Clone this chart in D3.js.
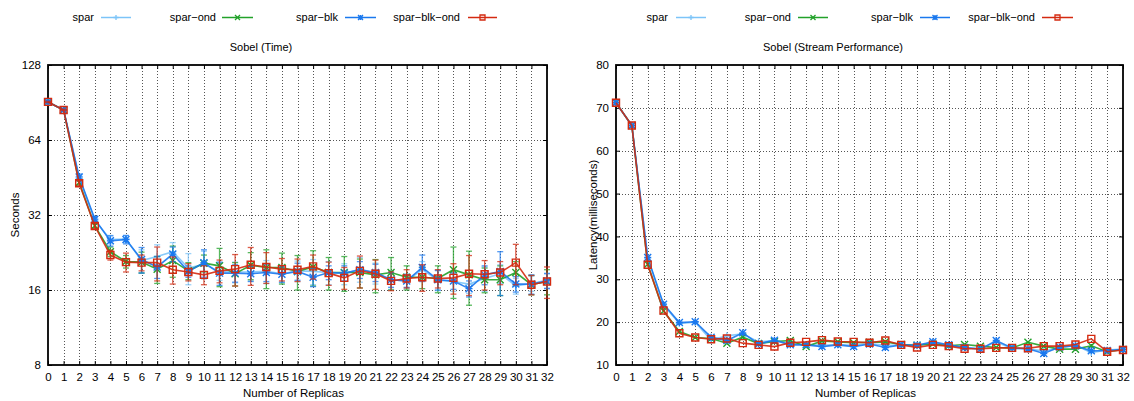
<!DOCTYPE html>
<html>
<head>
<meta charset="utf-8">
<script src="https://cdn.jsdelivr.net/npm/d3@7"></script>
<style>
  body { margin: 0; background: #fff; }
  svg { display: block; font-family: "Liberation Sans", Arial, Helvetica, sans-serif; }
</style>
</head>
<body>
<svg id="chart" width="1134" height="401"></svg>
<script>
// ---------- Data ----------
const replicas = d3.range(0, 33);
const seriesNames = ["spar", "spar\u2212ond", "spar\u2212blk", "spar\u2212blk\u2212ond"];

// Sobel (Time) – seconds
const timeSpar      = [91, 84.5, 45.0, 30.5, 25.5, 25.6, 21.0, 21.8, 22.8, 19.6, 20.3, 19.0, 18.9, 18.9, 19.0, 18.6, 19.1, 19.0, 18.8, 18.6, 19.4, 18.7, 17.6, 17.4, 19.3, 17.5, 17.3, 16.9, 17.8, 18.6, 16.6, 17.0, 17.5];
const timeSparOnd   = [91, 84.5, 43.2, 29.0, 22.8, 20.8, 20.7, 19.4, 21.0, 19.1, 20.5, 20.0, 18.6, 20.1, 19.7, 19.7, 19.0, 19.8, 18.8, 18.8, 18.8, 18.4, 18.8, 18.0, 18.0, 17.8, 19.3, 18.4, 17.6, 17.6, 18.8, 16.8, 17.3];
const timeSparBlk   = [91, 84.5, 45.5, 30.8, 25.2, 25.5, 21.2, 19.8, 22.3, 19.0, 20.6, 18.7, 18.7, 18.6, 18.8, 18.5, 19.0, 18.0, 18.8, 18.7, 19.3, 18.8, 17.6, 17.4, 19.7, 17.6, 17.4, 16.2, 18.4, 19.0, 16.9, 16.9, 17.4];
const timeSparBlkOnd= [91, 84.5, 42.9, 28.9, 22.1, 20.7, 20.6, 20.6, 19.3, 18.9, 18.4, 19.1, 19.4, 20.2, 19.8, 19.4, 19.3, 19.9, 18.7, 17.9, 19.1, 18.6, 17.4, 17.8, 18.0, 17.8, 17.9, 18.6, 18.5, 18.8, 20.6, 16.8, 17.3];

// error bars (± seconds)
const errSpar       = [0.8, 0.8, 1.2, 0.8, 1.0, 0.8, 2.2, 2.5, 2.0, 2.8, 2.6, 1.5, 1.8, 1.5, 2.0, 1.5, 1.8, 2.2, 2.0, 1.8, 2.2, 1.8, 1.5, 1.2, 1.5, 1.6, 1.5, 1.4, 2.0, 1.6, 1.2, 1.2, 1.2];
const errSparOnd    = [0.5, 0.5, 1.0, 0.6, 1.0, 1.2, 2.0, 2.4, 3.0, 1.5, 1.6, 3.5, 2.0, 2.5, 3.5, 2.8, 3.0, 3.2, 2.8, 3.0, 2.5, 2.8, 2.8, 2.0, 1.8, 2.2, 4.5, 4.5, 2.0, 2.4, 2.0, 1.5, 2.0];
const errSparBlk    = [0.5, 0.5, 1.2, 0.8, 1.2, 1.0, 2.5, 2.0, 1.5, 1.0, 2.6, 2.0, 1.5, 1.3, 1.5, 1.3, 1.5, 1.5, 1.2, 1.3, 1.5, 1.5, 1.2, 1.0, 2.4, 1.6, 1.3, 1.2, 1.6, 3.8, 1.2, 1.5, 1.2];
const errSparBlkOnd = [0.5, 0.5, 1.0, 0.7, 1.0, 1.8, 1.5, 3.2, 2.4, 1.5, 1.6, 2.0, 2.8, 3.5, 2.8, 2.0, 2.0, 2.2, 2.0, 1.8, 2.8, 2.5, 1.5, 1.5, 2.2, 1.5, 2.5, 3.4, 2.5, 2.0, 3.8, 1.5, 2.5];

// Sobel (Stream Performance) – latency ms
const latSpar       = [71.2, 65.9, 35.0, 24.0, 19.7, 20.0, 15.8, 16.8, 17.3, 15.4, 15.7, 15.0, 14.8, 14.6, 14.8, 14.6, 15.0, 14.6, 14.6, 14.5, 15.3, 14.5, 14.0, 13.8, 15.4, 13.8, 13.7, 13.3, 13.9, 14.6, 12.9, 13.5, 13.7];
const latSparOnd    = [71.2, 65.9, 33.5, 22.6, 17.8, 16.4, 16.2, 15.1, 16.5, 15.0, 15.5, 15.7, 14.3, 15.6, 15.4, 15.2, 15.3, 15.4, 14.8, 14.6, 14.9, 14.5, 14.8, 14.4, 14.1, 14.0, 15.3, 14.4, 13.7, 13.7, 14.5, 13.1, 13.6];
const latSparBlk    = [71.2, 65.9, 35.1, 24.2, 19.9, 20.1, 16.5, 15.7, 17.5, 14.9, 15.8, 14.7, 14.7, 14.3, 14.7, 14.3, 14.9, 14.1, 14.7, 14.6, 15.4, 14.7, 14.1, 13.7, 15.7, 14.0, 13.8, 12.7, 14.2, 14.5, 13.3, 13.4, 13.6];
const latSparBlkOnd = [71.2, 65.9, 33.4, 22.7, 17.4, 16.4, 16.0, 16.2, 15.1, 14.7, 14.3, 15.2, 15.4, 15.8, 15.5, 15.4, 15.2, 15.7, 14.7, 14.1, 14.7, 14.4, 13.8, 13.8, 14.0, 14.0, 13.9, 14.4, 14.4, 14.8, 16.1, 13.1, 13.5];

const timeTicks = [8, 16, 32, 64, 128];
const latTicks = [10, 20, 30, 40, 50, 60, 70, 80];

// ---------- Styles ----------
const colors = ["#7cc4f8", "#22a22a", "#1a78ee", "#d42a10"];
const markers = ["plus", "cross", "star", "square"];

const svg = d3.select("#chart");

function markerPath(type, s) {
  const h = s / 2;
  if (type === "plus") return `M${-h},0H${h}M0,${-h}V${h}`;
  if (type === "cross") return `M${-h},${-h}L${h},${h}M${-h},${h}L${h},${-h}`;
  if (type === "star") return `M${-h},0H${h}M0,${-h}V${h}M${-h},${-h}L${h},${h}M${-h},${h}L${h},${-h}`;
  return `M${-h},${-h}H${h}V${h}H${-h}Z`;
}

function drawChart(cfg) {
  const g = svg.append("g");
  const x = d3.scaleLinear().domain([0, 32]).range([cfg.x0, cfg.x1]);
  const y = cfg.yScale;

  // grid
  const grid = g.append("g").attr("stroke", "#555").attr("stroke-width", 1).attr("stroke-dasharray", "1,2");
  grid.selectAll("line.vx").data(replicas.slice(1, -1)).join("line")
    .attr("x1", d => Math.round(x(d)) + 0.5).attr("x2", d => Math.round(x(d)) + 0.5)
    .attr("y1", cfg.y0).attr("y2", cfg.y1);
  grid.selectAll("line.hy").data(cfg.ticks.slice(1, -1)).join("line")
    .attr("y1", d => Math.round(y(d)) + 0.5).attr("y2", d => Math.round(y(d)) + 0.5)
    .attr("x1", cfg.x0).attr("x2", cfg.x1);

  // axes (D3 axes for labels)
  const xAxis = d3.axisBottom(x).tickValues(replicas).tickFormat(d3.format("d")).tickSizeInner(-4).tickSizeOuter(0).tickPadding(8);
  g.append("g").attr("transform", `translate(0,${cfg.y1})`).call(xAxis);
  const yAxis = d3.axisLeft(y).tickValues(cfg.ticks).tickFormat(d3.format("d")).tickSizeInner(-4).tickSizeOuter(0).tickPadding(7);
  g.append("g").attr("transform", `translate(${cfg.x0},0)`).call(yAxis);
  const yAxisR = d3.axisRight(y).tickValues(cfg.ticks).tickFormat("").tickSizeInner(-4).tickSizeOuter(0);
  g.append("g").attr("transform", `translate(${cfg.x1},0)`).call(yAxisR);
  const xAxisT = d3.axisTop(x).tickValues(replicas).tickFormat("").tickSizeInner(-4).tickSizeOuter(0);
  g.append("g").attr("transform", `translate(0,${cfg.y0})`).call(xAxisT);
  g.selectAll(".domain").remove();
  g.selectAll(".tick line").attr("stroke", "#000");
  g.selectAll(".tick text").attr("font-size", 11.5).attr("fill", "#000").attr("font-family", "Liberation Sans, Arial, sans-serif");

  // frame
  g.append("rect").attr("x", cfg.x0).attr("y", cfg.y0).attr("width", cfg.x1 - cfg.x0).attr("height", cfg.y1 - cfg.y0)
    .attr("fill", "none").attr("stroke", "#000").attr("stroke-width", 1.8);

  // series
  cfg.series.forEach((vals, i) => {
    const sg = g.append("g");
    const col = colors[i];
    if (cfg.errors) {
      const err = cfg.errors[i];
      const eg = sg.append("g").attr("stroke", col).attr("stroke-width", 1.3).attr("opacity", 0.75);
      replicas.forEach(r => {
        const yt = y(vals[r] + err[r]), yb = y(vals[r] - err[r]), xc = x(r);
        eg.append("line").attr("x1", xc).attr("x2", xc).attr("y1", yt).attr("y2", yb);
        eg.append("line").attr("x1", xc - 3).attr("x2", xc + 3).attr("y1", yt).attr("y2", yt);
        eg.append("line").attr("x1", xc - 3).attr("x2", xc + 3).attr("y1", yb).attr("y2", yb);
      });
    }
    const line = d3.line().x(r => x(r)).y(r => y(vals[r]));
    sg.append("path").datum(replicas).attr("d", line).attr("fill", "none")
      .attr("stroke", col).attr("stroke-width", 1.6).attr("opacity", 0.9);
    sg.selectAll("path.m").data(replicas).join("path")
      .attr("transform", r => `translate(${x(r)},${y(vals[r])})`)
      .attr("d", markerPath(markers[i], 7))
      .attr("fill", "none").attr("stroke", col).attr("stroke-width", 1.4);
  });

  // axis titles
  svg.append("text").attr("x", (cfg.x0 + cfg.x1) / 2 - 4).attr("y", 397).attr("text-anchor", "middle")
    .attr("font-size", 11.5).text("Number of Replicas");
  svg.append("text").attr("transform", `translate(${cfg.ylabX},${(cfg.y0 + cfg.y1) / 2}) rotate(-90)`)
    .attr("text-anchor", "middle").attr("font-size", 11.5).text(cfg.ylabel);
  svg.append("text").attr("x", cfg.titleX).attr("y", 51).attr("text-anchor", "middle")
    .attr("font-size", 11).text(cfg.title);

  // legend
  cfg.legend.forEach((lx, i) => {
    svg.append("text").attr("x", lx.textEnd).attr("y", 21).attr("text-anchor", "end")
      .attr("font-size", 11).text(seriesNames[i]);
    svg.append("line").attr("x1", lx.l0).attr("x2", lx.l1).attr("y1", 17.5).attr("y2", 17.5)
      .attr("stroke", colors[i]).attr("stroke-width", 1.5);
    svg.append("path").attr("transform", `translate(${(lx.l0 + lx.l1) / 2},17.5)`)
      .attr("d", markerPath(markers[i], 5)).attr("fill", "none").attr("stroke", colors[i]).attr("stroke-width", 1.3);
  });
}

drawChart({
  x0: 48, x1: 547, y0: 65, y1: 365,
  yScale: d3.scaleLog().base(2).domain([8, 128]).range([365, 65]),
  ticks: timeTicks,
  series: [timeSpar, timeSparOnd, timeSparBlk, timeSparBlkOnd],
  errors: [errSpar, errSparOnd, errSparBlk, errSparBlkOnd],
  ylabel: "Seconds", ylabX: 19,
  title: "Sobel (Time)", titleX: 261,
  legend: [
    { textEnd: 94, l0: 101, l1: 131 },
    { textEnd: 216, l0: 222, l1: 253 },
    { textEnd: 338, l0: 345, l1: 376 },
    { textEnd: 460, l0: 468, l1: 497 }
  ]
});

drawChart({
  x0: 616, x1: 1123, y0: 65, y1: 365,
  yScale: d3.scaleLinear().domain([10, 80]).range([365, 65]),
  ticks: latTicks,
  series: [latSpar, latSparOnd, latSparBlk, latSparBlkOnd],
  errors: null,
  ylabel: "Latency(milliseconds)", ylabX: 597,
  title: "Sobel (Stream Performance)", titleX: 833,
  legend: [
    { textEnd: 668, l0: 676, l1: 706 },
    { textEnd: 791, l0: 798, l1: 828 },
    { textEnd: 913, l0: 920, l1: 950 },
    { textEnd: 1035, l0: 1042, l1: 1073 }
  ]
});
</script>
</body>
</html>
